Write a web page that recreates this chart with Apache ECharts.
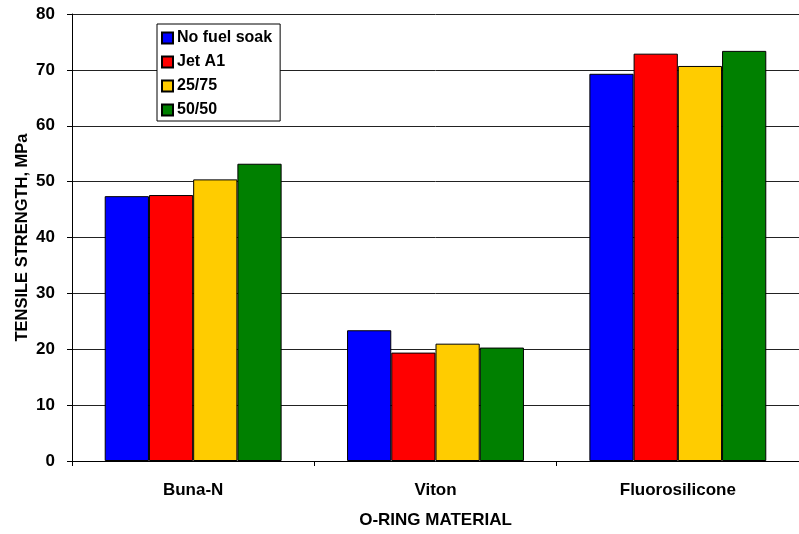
<!DOCTYPE html>
<html>
<head>
<meta charset="utf-8">
<script src="https://cdn.jsdelivr.net/npm/echarts@6/dist/echarts.min.js"></script>
<style>
html,body{margin:0;padding:0;background:#fff;}
#chart{width:799px;height:534px;}
</style>
</head>
<body>
<div id="chart"></div>
<script>
const categories = ['Buna-N', 'Viton', 'Fluorosilicone'];
const seriesNames = ['No fuel soak', 'Jet A1', '25/75', '50/50'];
const noFuelSoak = [47.4, 23.4, 69.3];
const jetA1 = [47.6, 19.4, 72.9];
const mix2575 = [50.4, 21.0, 70.7];
const mix5050 = [53.2, 20.3, 73.4];
const seriesColors = ['#0000FF', '#FF0000', '#FFCC00', '#008000'];
const yTicks = [0, 10, 20, 30, 40, 50, 60, 70, 80];

const values = [noFuelSoak, jetA1, mix2575, mix5050];
const FONT = '"Liberation Sans", Arial, sans-serif';

const chart = echarts.init(document.getElementById('chart'), null, {renderer: 'canvas'});
chart.setOption({
  animation: false,
  backgroundColor: '#fff',
  grid: {left: 72, top: 14, right: -4, bottom: 73, containLabel: false},
  legend: {
    orient: 'vertical',
    left: 157, top: 24,
    padding: [6, 8, 3, 4],
    itemGap: 8,
    itemWidth: 11, itemHeight: 11,
    icon: 'rect',
    backgroundColor: '#fff',
    borderColor: '#000',
    borderWidth: 1,
    textStyle: {fontFamily: FONT, fontWeight: 'bold', fontSize: 16, lineHeight: 16, color: '#000', padding: [0,0,0,-1]},
    data: seriesNames
  },
  xAxis: {
    type: 'category',
    data: categories,
    name: 'O-RING MATERIAL',
    nameLocation: 'middle',
    nameGap: 51,
    nameMoveOverlap: false,
    nameTextStyle: {fontFamily: FONT, fontWeight: 'bold', fontSize: 17, color: '#000'},
    axisLine: {lineStyle: {color: '#000', width: 1}},
    axisTick: {show: true, length: 5, lineStyle: {color: '#000'}},
    axisLabel: {fontFamily: FONT, fontWeight: 'bold', fontSize: 17, color: '#000', margin: 21}
  },
  yAxis: {
    type: 'value',
    min: yTicks[0], max: yTicks[yTicks.length - 1], interval: 10,
    name: 'TENSILE STRENGTH, MPa',
    nameLocation: 'middle',
    nameGap: 41,
    nameRotate: 90,
    nameMoveOverlap: false,
    nameTextStyle: {fontFamily: FONT, fontWeight: 'bold', fontSize: 16.5, color: '#000'},
    axisLine: {show: true, lineStyle: {color: '#000', width: 1}},
    axisTick: {show: true, length: 5, lineStyle: {color: '#000'}},
    axisLabel: {fontFamily: FONT, fontWeight: 'bold', fontSize: 17, color: '#000', margin: 17},
    splitLine: {show: true, lineStyle: {color: '#222', width: 1}}
  },
  series: seriesNames.map((name, i) => ({
    name: name,
    type: 'bar',
    data: values[i],
    barGap: '0%',
    barCategoryGap: '27%',
    itemStyle: {color: seriesColors[i], borderColor: '#000', borderWidth: 1}
  }))
});
</script>
</body>
</html>
